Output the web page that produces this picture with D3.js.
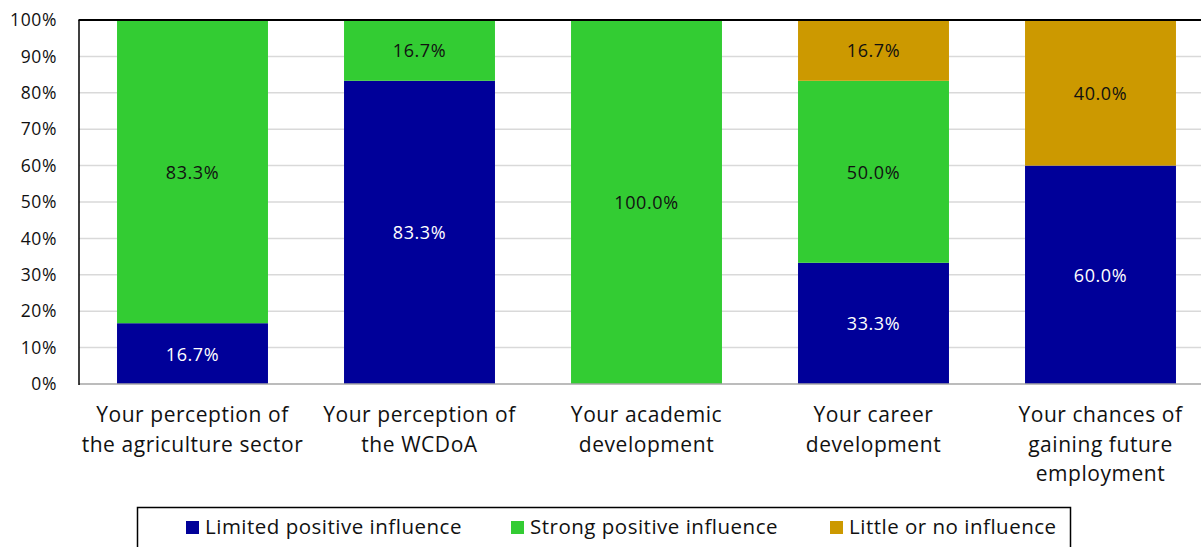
<!DOCTYPE html>
<html><head><meta charset="utf-8">
<script src="https://cdn.jsdelivr.net/npm/d3@7"></script>
<style>
html,body{margin:0;padding:0;background:#fff;}
svg{display:block;font-family:"Open Sans", Lato, sans-serif;}
</style></head>
<body>
<svg id="c" width="1201" height="547"></svg>
<script>
const categories = [
  ["Your perception of","the agriculture sector"],
  ["Your perception of","the WCDoA"],
  ["Your academic","development"],
  ["Your career","development"],
  ["Your chances of","gaining future","employment"]
];
const seriesNames = ["Limited positive influence","Strong positive influence","Little or no influence"];
const limited = [16.7, 83.3, 0, 33.3, 60.0];
const strong  = [83.3, 16.7, 100.0, 50.0, 0];
const little  = [0, 0, 0, 16.7, 40.0];
const colors = ["#000099","#33CC33","#CC9900"];
const labelColors = ["#ffffff","#111111","#111111"];
const yTicks = [0,10,20,30,40,50,60,70,80,90,100];

(function(){
const svg = d3.select("#c");
const pLeft = 79, pTop = 20, pBottom = 384, bandW = 227;
const x = d3.scaleBand().domain(d3.range(categories.length)).range([pLeft, pLeft + bandW*categories.length]).paddingInner(0.335).paddingOuter(0.1675);
const y = d3.scaleLinear().domain([0,100]).range([pBottom, pTop]);

// gridlines
svg.append("g").selectAll("line").data(yTicks.filter(d=>d>0 && d<100)).join("line")
  .attr("x1", pLeft).attr("x2", 1201).attr("y1", d=>y(d)).attr("y2", d=>y(d))
  .attr("stroke", "#d9d9d9").attr("stroke-width", 1.5);

// y axis labels
const yAxis = d3.axisLeft(y).tickValues(yTicks).tickFormat(d=>d+"%").tickSize(0).tickPadding(22);
const ya = svg.append("g").attr("transform",`translate(${pLeft},0)`).call(yAxis);
ya.select(".domain").remove();
ya.selectAll("text").attr("font-size", 17.5).attr("letter-spacing", 0.6).attr("fill", "#111").attr("font-family","'Open Sans', sans-serif");

// stacked bars
const series = [limited, strong, little];
const g = svg.append("g");
series.forEach((s, si)=>{
  s.forEach((v, i)=>{
    if (v <= 0) return;
    const base = series.slice(0, si).reduce((a, ss)=>a+ss[i], 0);
    const y0 = y(base), y1 = y(Math.min(100, base+v));
    g.append("rect").attr("x", x(i)).attr("width", x.bandwidth())
      .attr("y", y1).attr("height", y0 - y1).attr("fill", colors[si]);
    g.append("text").attr("x", x(i)+x.bandwidth()/2).attr("y", (y0+y1)/2)
      .attr("text-anchor","middle").attr("dominant-baseline","central")
      .attr("font-size", 18).attr("letter-spacing", 0.6).attr("fill", labelColors[si]).text(v.toFixed(1)+"%");
  });
});

// axes lines
svg.append("line").attr("x1", pLeft).attr("x2", 1201).attr("y1", pBottom).attr("y2", pBottom)
  .attr("stroke", "#a6a6a6").attr("stroke-width", 1.5);
svg.append("line").attr("x1", pLeft-0.5).attr("x2", 1201).attr("y1", pTop).attr("y2", pTop)
  .attr("stroke", "#000").attr("stroke-width", 2);
svg.append("line").attr("x1", pLeft).attr("x2", pLeft).attr("y1", pTop).attr("y2", pBottom+1)
  .attr("stroke", "#000").attr("stroke-width", 1.5);

// category labels
const cl = svg.append("g");
categories.forEach((lines, i)=>{
  const cx = x(i)+x.bandwidth()/2;
  const t = cl.append("text").attr("x", cx).attr("y", 422)
    .attr("text-anchor","middle").attr("font-size", 21).attr("letter-spacing", 0.55).attr("fill","#111");
  lines.forEach((ln, k)=>{
    t.append("tspan").attr("x", cx).attr("dy", k===0?0:29.5).text(ln);
  });
});

// legend
svg.append("rect").attr("x", 137.5).attr("y", 507.5).attr("width", 933).attr("height", 50)
  .attr("fill","#fff").attr("stroke","#000").attr("stroke-width",1.5);
const legX = [186, 511, 830];
seriesNames.forEach((n, i)=>{
  svg.append("rect").attr("x", legX[i]).attr("y", 521).attr("width", 13).attr("height", 13).attr("fill", colors[i]);
  svg.append("text").attr("x", legX[i]+19).attr("y", 534).attr("font-size", 20.5).attr("letter-spacing", 0.5).attr("fill","#111").text(n);
});
})();
</script>
</body></html>
